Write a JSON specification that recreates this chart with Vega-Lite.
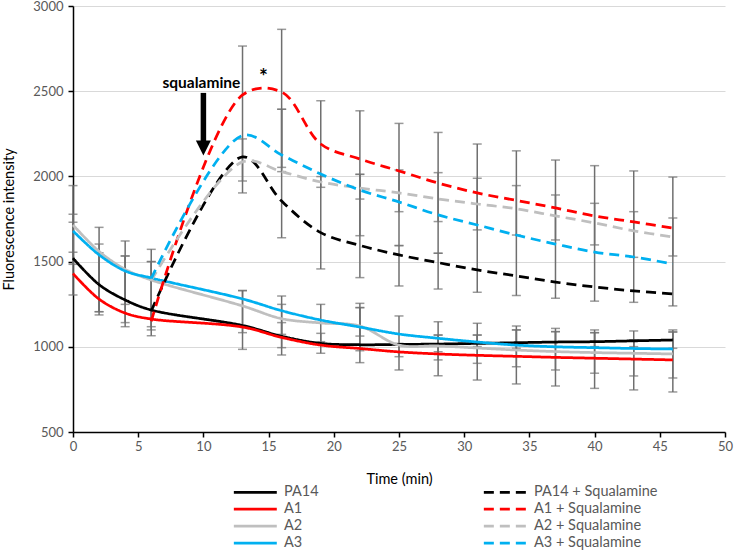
{
  "$schema": "https://vega.github.io/schema/vega-lite/v6.json",
  "width": 652,
  "height": 426,
  "autosize": {"type": "none"},
  "padding": {"left": 73, "top": 6, "right": 10, "bottom": 119},
  "config": {
    "view": {"stroke": null},
    "font": "Lato",
    "axis": {
      "domainColor": "#000000",
      "domainWidth": 1.5,
      "tickColor": "#000000",
      "tickWidth": 1.5,
      "tickSize": 5,
      "labelColor": "#595959",
      "labelFontSize": 13,
      "labelFont": "Lato",
      "titleFont": "Lato",
      "titleFontSize": 14.5,
      "titleFontWeight": "normal",
      "titleColor": "#000000"
    }
  },
  "datasets": {
    "lines": [
      {"series": "PA14", "t": 0, "v": 1520}, {"series": "PA14", "t": 2, "v": 1365}, {"series": "PA14", "t": 4, "v": 1275}, {"series": "PA14", "t": 6, "v": 1216},
      {"series": "PA14", "t": 13, "v": 1125}, {"series": "PA14", "t": 16, "v": 1062}, {"series": "PA14", "t": 19, "v": 1020}, {"series": "PA14", "t": 22, "v": 1012},
      {"series": "PA14", "t": 25, "v": 1014}, {"series": "PA14", "t": 28, "v": 1016}, {"series": "PA14", "t": 31, "v": 1020}, {"series": "PA14", "t": 34, "v": 1024},
      {"series": "PA14", "t": 37, "v": 1028}, {"series": "PA14", "t": 40, "v": 1030}, {"series": "PA14", "t": 43, "v": 1035}, {"series": "PA14", "t": 46, "v": 1040},
      {"series": "A1", "t": 0, "v": 1430}, {"series": "A1", "t": 2, "v": 1280}, {"series": "A1", "t": 4, "v": 1198}, {"series": "A1", "t": 6, "v": 1163},
      {"series": "A1", "t": 13, "v": 1116}, {"series": "A1", "t": 16, "v": 1055}, {"series": "A1", "t": 19, "v": 1010}, {"series": "A1", "t": 22, "v": 990},
      {"series": "A1", "t": 25, "v": 970}, {"series": "A1", "t": 28, "v": 958}, {"series": "A1", "t": 31, "v": 950}, {"series": "A1", "t": 34, "v": 944},
      {"series": "A1", "t": 37, "v": 938}, {"series": "A1", "t": 40, "v": 933}, {"series": "A1", "t": 43, "v": 928}, {"series": "A1", "t": 46, "v": 923},
      {"series": "A2", "t": 0, "v": 1715}, {"series": "A2", "t": 2, "v": 1560}, {"series": "A2", "t": 4, "v": 1455}, {"series": "A2", "t": 6, "v": 1392},
      {"series": "A2", "t": 13, "v": 1240}, {"series": "A2", "t": 16, "v": 1165}, {"series": "A2", "t": 19, "v": 1140}, {"series": "A2", "t": 22, "v": 1122},
      {"series": "A2", "t": 25, "v": 1010}, {"series": "A2", "t": 28, "v": 1005}, {"series": "A2", "t": 31, "v": 993}, {"series": "A2", "t": 34, "v": 981},
      {"series": "A2", "t": 37, "v": 972}, {"series": "A2", "t": 40, "v": 966}, {"series": "A2", "t": 43, "v": 962}, {"series": "A2", "t": 46, "v": 958},
      {"series": "A3", "t": 0, "v": 1680}, {"series": "A3", "t": 2, "v": 1540}, {"series": "A3", "t": 4, "v": 1445}, {"series": "A3", "t": 6, "v": 1404},
      {"series": "A3", "t": 13, "v": 1281}, {"series": "A3", "t": 16, "v": 1212}, {"series": "A3", "t": 19, "v": 1157}, {"series": "A3", "t": 22, "v": 1116},
      {"series": "A3", "t": 25, "v": 1075}, {"series": "A3", "t": 28, "v": 1050}, {"series": "A3", "t": 31, "v": 1028}, {"series": "A3", "t": 34, "v": 1010},
      {"series": "A3", "t": 37, "v": 1000}, {"series": "A3", "t": 40, "v": 995}, {"series": "A3", "t": 43, "v": 990}, {"series": "A3", "t": 46, "v": 987},
      {"series": "PA14 + Squalamine", "t": 6, "v": 1210}, {"series": "PA14 + Squalamine", "t": 13, "v": 2115}, {"series": "PA14 + Squalamine", "t": 16, "v": 1855},
      {"series": "PA14 + Squalamine", "t": 19, "v": 1670}, {"series": "PA14 + Squalamine", "t": 22, "v": 1595}, {"series": "PA14 + Squalamine", "t": 25, "v": 1539},
      {"series": "PA14 + Squalamine", "t": 28, "v": 1494}, {"series": "PA14 + Squalamine", "t": 31, "v": 1451}, {"series": "PA14 + Squalamine", "t": 34, "v": 1416},
      {"series": "PA14 + Squalamine", "t": 37, "v": 1380}, {"series": "PA14 + Squalamine", "t": 40, "v": 1351}, {"series": "PA14 + Squalamine", "t": 43, "v": 1328},
      {"series": "PA14 + Squalamine", "t": 46, "v": 1310},
      {"series": "A1 + Squalamine", "t": 6, "v": 1150}, {"series": "A1 + Squalamine", "t": 13, "v": 2478}, {"series": "A1 + Squalamine", "t": 16, "v": 2495},
      {"series": "A1 + Squalamine", "t": 19, "v": 2190}, {"series": "A1 + Squalamine", "t": 22, "v": 2102}, {"series": "A1 + Squalamine", "t": 25, "v": 2032},
      {"series": "A1 + Squalamine", "t": 28, "v": 1961}, {"series": "A1 + Squalamine", "t": 31, "v": 1903}, {"series": "A1 + Squalamine", "t": 34, "v": 1859},
      {"series": "A1 + Squalamine", "t": 37, "v": 1815}, {"series": "A1 + Squalamine", "t": 40, "v": 1768}, {"series": "A1 + Squalamine", "t": 43, "v": 1733},
      {"series": "A1 + Squalamine", "t": 46, "v": 1697},
      {"series": "A2 + Squalamine", "t": 6, "v": 1390}, {"series": "A2 + Squalamine", "t": 13, "v": 2085}, {"series": "A2 + Squalamine", "t": 16, "v": 2028},
      {"series": "A2 + Squalamine", "t": 19, "v": 1967}, {"series": "A2 + Squalamine", "t": 22, "v": 1932}, {"series": "A2 + Squalamine", "t": 25, "v": 1903},
      {"series": "A2 + Squalamine", "t": 28, "v": 1868}, {"series": "A2 + Squalamine", "t": 31, "v": 1838}, {"series": "A2 + Squalamine", "t": 34, "v": 1810},
      {"series": "A2 + Squalamine", "t": 37, "v": 1768}, {"series": "A2 + Squalamine", "t": 40, "v": 1727}, {"series": "A2 + Squalamine", "t": 43, "v": 1680},
      {"series": "A2 + Squalamine", "t": 46, "v": 1645},
      {"series": "A3 + Squalamine", "t": 6, "v": 1400}, {"series": "A3 + Squalamine", "t": 13, "v": 2240}, {"series": "A3 + Squalamine", "t": 16, "v": 2126},
      {"series": "A3 + Squalamine", "t": 19, "v": 2014}, {"series": "A3 + Squalamine", "t": 22, "v": 1920}, {"series": "A3 + Squalamine", "t": 25, "v": 1850},
      {"series": "A3 + Squalamine", "t": 28, "v": 1774}, {"series": "A3 + Squalamine", "t": 31, "v": 1715}, {"series": "A3 + Squalamine", "t": 34, "v": 1656},
      {"series": "A3 + Squalamine", "t": 37, "v": 1603}, {"series": "A3 + Squalamine", "t": 40, "v": 1556}, {"series": "A3 + Squalamine", "t": 43, "v": 1527},
      {"series": "A3 + Squalamine", "t": 46, "v": 1486}
    ],
    "bars": [
      {"t": 0, "lo": 1484, "hi": 1946}, {"t": 0, "lo": 1555, "hi": 1778}, {"t": 0, "lo": 1304, "hi": 1731},
      {"t": 2, "lo": 1187, "hi": 1552}, {"t": 2, "lo": 1206, "hi": 1701}, {"t": 2, "lo": 1206, "hi": 1603},
      {"t": 4, "lo": 1249, "hi": 1621}, {"t": 4, "lo": 1142, "hi": 1533}, {"t": 4, "lo": 1118, "hi": 1533},
      {"t": 6, "lo": 1065, "hi": 1572}, {"t": 6, "lo": 1099, "hi": 1500}, {"t": 6, "lo": 1118, "hi": 1500},
      {"t": 13, "lo": 1903, "hi": 2765}, {"t": 13, "lo": 1973, "hi": 2220}, {"t": 13, "lo": 985, "hi": 1330}, {"t": 13, "lo": 1083, "hi": 1330},
      {"t": 16, "lo": 2028, "hi": 2863}, {"t": 16, "lo": 1640, "hi": 2394}, {"t": 16, "lo": 2053, "hi": 2394}, {"t": 16, "lo": 952, "hi": 1298}, {"t": 16, "lo": 995, "hi": 1249}, {"t": 16, "lo": 1073, "hi": 1142},
      {"t": 19, "lo": 1936, "hi": 2444}, {"t": 19, "lo": 1457, "hi": 1999}, {"t": 19, "lo": 1030, "hi": 1249}, {"t": 19, "lo": 962, "hi": 1079},
      {"t": 22, "lo": 1867, "hi": 2385}, {"t": 22, "lo": 1406, "hi": 2012}, {"t": 22, "lo": 1652, "hi": 2012}, {"t": 22, "lo": 977, "hi": 1255}, {"t": 22, "lo": 907, "hi": 1230}, {"t": 22, "lo": 1063, "hi": 1230},
      {"t": 25, "lo": 1793, "hi": 2311}, {"t": 25, "lo": 1594, "hi": 2038}, {"t": 25, "lo": 1357, "hi": 1594}, {"t": 25, "lo": 864, "hi": 1181}, {"t": 25, "lo": 942, "hi": 1020},
      {"t": 28, "lo": 1735, "hi": 2258}, {"t": 28, "lo": 1549, "hi": 2022}, {"t": 28, "lo": 1339, "hi": 1549}, {"t": 28, "lo": 923, "hi": 1147}, {"t": 28, "lo": 830, "hi": 1069}, {"t": 28, "lo": 971, "hi": 1069},
      {"t": 31, "lo": 1686, "hi": 2190}, {"t": 31, "lo": 1320, "hi": 1989}, {"t": 31, "lo": 903, "hi": 1138}, {"t": 31, "lo": 805, "hi": 1069}, {"t": 31, "lo": 1001, "hi": 1069},
      {"t": 34, "lo": 1656, "hi": 2150}, {"t": 34, "lo": 1301, "hi": 1946}, {"t": 34, "lo": 883, "hi": 1122}, {"t": 34, "lo": 782, "hi": 1099}, {"t": 34, "lo": 991, "hi": 1099},
      {"t": 37, "lo": 1627, "hi": 2096}, {"t": 37, "lo": 1285, "hi": 1891}, {"t": 37, "lo": 864, "hi": 1108}, {"t": 37, "lo": 770, "hi": 1089}, {"t": 37, "lo": 997, "hi": 1089},
      {"t": 40, "lo": 1598, "hi": 2063}, {"t": 40, "lo": 1268, "hi": 1842}, {"t": 40, "lo": 845, "hi": 1099}, {"t": 40, "lo": 756, "hi": 1083}, {"t": 40, "lo": 1001, "hi": 1083},
      {"t": 43, "lo": 1525, "hi": 2032}, {"t": 43, "lo": 1261, "hi": 1793}, {"t": 43, "lo": 829, "hi": 1093}, {"t": 43, "lo": 747, "hi": 1040}, {"t": 43, "lo": 1001, "hi": 1040},
      {"t": 46, "lo": 1533, "hi": 1996}, {"t": 46, "lo": 1240, "hi": 1756}, {"t": 46, "lo": 817, "hi": 1099}, {"t": 46, "lo": 735, "hi": 1087}, {"t": 46, "lo": 991, "hi": 1087}
    ],
    "arrow": [{"t": 10, "top": 2490, "bottom": 2200}],
    "head": [{"t": 10, "v": 2167}],
    "notes": [{"t": 9.85, "v": 2548, "label": "squalamine", "size": 15.5}, {"t": 14.6, "v": 2575, "label": "*", "size": 21}]
  },
  "layer": [
    {
      "data": {"name": "bars"},
      "mark": {"type": "rule", "color": "#6f6f6f", "strokeWidth": 1.5},
      "encoding": {
        "x": {"field": "t", "type": "quantitative", "title": "Time (min)", "scale": {"domain": [0, 50], "nice": false}, "axis": {"values": [0, 5, 10, 15, 20, 25, 30, 35, 40, 45, 50], "grid": false, "labelFlush": false, "labelPadding": 3, "titlePadding": 19}},
        "y": {"field": "lo", "type": "quantitative", "title": "Fluorescence intensity", "scale": {"domain": [500, 3000], "nice": false}, "axis": {"values": [500, 1000, 1500, 2000, 2500, 3000], "format": "d", "grid": true, "gridColor": "#d9d9d9", "gridWidth": 1, "labelPadding": 5, "titlePadding": 16}},
        "y2": {"field": "hi"}
      }
    },
    {
      "data": {"name": "bars"},
      "mark": {"type": "tick", "orient": "horizontal", "color": "#6f6f6f", "size": 9, "thickness": 1.5},
      "encoding": {
        "x": {"field": "t", "type": "quantitative", "title": "Time (min)"},
        "y": {"field": "lo", "type": "quantitative", "title": "Fluorescence intensity"}
      }
    },
    {
      "data": {"name": "bars"},
      "mark": {"type": "tick", "orient": "horizontal", "color": "#6f6f6f", "size": 9, "thickness": 1.5},
      "encoding": {
        "x": {"field": "t", "type": "quantitative", "title": "Time (min)"},
        "y": {"field": "hi", "type": "quantitative", "title": "Fluorescence intensity"}
      }
    },
    {
      "data": {"name": "lines"},
      "mark": {"type": "line", "strokeWidth": 2.75, "interpolate": "catmull-rom"},
      "encoding": {
        "x": {"field": "t", "type": "quantitative", "title": "Time (min)"},
        "y": {"field": "v", "type": "quantitative", "title": "Fluorescence intensity"},
        "color": {
          "field": "series", "type": "nominal",
          "scale": {
            "domain": ["PA14", "PA14 + Squalamine", "A1", "A1 + Squalamine", "A2", "A2 + Squalamine", "A3", "A3 + Squalamine"],
            "range": ["#000000", "#000000", "#ff0000", "#ff0000", "#bfbfbf", "#bfbfbf", "#00b0f0", "#00b0f0"]
          },
          "legend": {
            "title": null, "orient": "none", "legendX": 159, "legendY": 477, "columns": 2, "direction": "horizontal",
            "columnPadding": 159, "rowPadding": 1, "padding": 0, "symbolType": "M-1,0H5", "symbolSize": 205, "symbolStrokeWidth": 2.75,
            "labelFontSize": 14.5, "labelColor": "#595959", "labelFont": "Lato", "labelOffset": 34
          }
        },
        "strokeDash": {
          "field": "series", "type": "nominal",
          "scale": {
            "domain": ["PA14", "PA14 + Squalamine", "A1", "A1 + Squalamine", "A2", "A2 + Squalamine", "A3", "A3 + Squalamine"],
            "range": [[1, 0], [10, 6], [1, 0], [10, 6], [1, 0], [10, 6], [1, 0], [10, 6]]
          },
          "legend": {
            "title": null, "orient": "none", "legendX": 159, "legendY": 477, "columns": 2, "direction": "horizontal",
            "columnPadding": 159, "rowPadding": 1, "padding": 0, "symbolType": "M-1,0H5", "symbolSize": 205, "symbolStrokeWidth": 2.75,
            "labelFontSize": 14.5, "labelColor": "#595959", "labelFont": "Lato", "labelOffset": 34
          }
        }
      }
    },
    {
      "data": {"name": "arrow"},
      "mark": {"type": "rule", "color": "#000000", "strokeWidth": 5.5},
      "encoding": {
        "x": {"field": "t", "type": "quantitative", "title": "Time (min)"},
        "y": {"field": "top", "type": "quantitative", "title": "Fluorescence intensity"},
        "y2": {"field": "bottom"}
      }
    },
    {
      "data": {"name": "head"},
      "mark": {"type": "point", "shape": "M-1,-1L1,-1L0,1Z", "filled": true, "color": "#000000", "opacity": 1, "size": 225},
      "encoding": {
        "x": {"field": "t", "type": "quantitative", "title": "Time (min)"},
        "y": {"field": "v", "type": "quantitative", "title": "Fluorescence intensity"}
      }
    },
    {
      "data": {"name": "notes"},
      "mark": {"type": "text", "fontWeight": "bold", "color": "#000000", "font": "Lato", "baseline": "middle", "align": "center"},
      "encoding": {
        "x": {"field": "t", "type": "quantitative", "title": "Time (min)"},
        "y": {"field": "v", "type": "quantitative", "title": "Fluorescence intensity"},
        "text": {"field": "label"},
        "size": {"field": "size", "type": "quantitative", "scale": null, "legend": null}
      }
    }
  ]
}
